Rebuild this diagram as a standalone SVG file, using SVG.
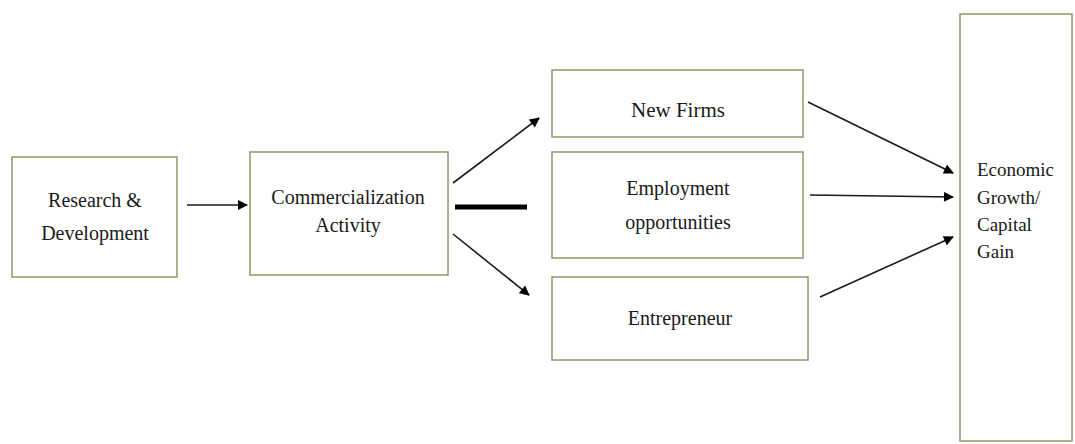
<svg xmlns="http://www.w3.org/2000/svg" width="1075" height="444" viewBox="0 0 1075 444">
  <style>
    .box { fill: #ffffff; stroke: #8a9c66; stroke-width: 1.5; }
    .lbl { font-family: "Liberation Serif", "Times New Roman", serif; font-size: 20px; fill: #1a1a1a; text-anchor: middle; }
    .lbl-left { font-family: "Liberation Serif", "Times New Roman", serif; font-size: 19px; fill: #1a1a1a; text-anchor: start; }
    .edge { stroke: #1a1a1a; stroke-width: 1.6; fill: none; marker-end: url(#head); }
    .edge-bold { stroke: #000000; stroke-width: 5; fill: none; }
  </style>
  <defs>
    <marker id="head" viewBox="0 0 10 10" refX="9" refY="5" markerWidth="11" markerHeight="10" markerUnits="userSpaceOnUse" orient="auto">
      <path d="M0,0 L10,5 L0,10 z" fill="#000"/>
    </marker>
  </defs>
  <rect width="1075" height="444" fill="#ffffff"/>

  <g id="research-development">
    <rect class="box" x="12" y="157" width="165" height="120"/>
    <text class="lbl" x="95" y="207">Research &amp;</text>
    <text class="lbl" x="95" y="240">Development</text>
  </g>

  <g id="commercialization-activity">
    <rect class="box" x="250" y="152" width="198" height="123"/>
    <text class="lbl" x="348" y="204">Commercialization</text>
    <text class="lbl" x="348" y="232">Activity</text>
  </g>

  <g id="new-firms">
    <rect class="box" x="552" y="70" width="251" height="67"/>
    <text class="lbl" x="678" y="117" style="font-size:21px">New Firms</text>
  </g>

  <g id="employment-opportunities">
    <rect class="box" x="552" y="152" width="251" height="106"/>
    <text class="lbl" x="678" y="195">Employment</text>
    <text class="lbl" x="678" y="229">opportunities</text>
  </g>

  <g id="entrepreneur">
    <rect class="box" x="552" y="277" width="256" height="83"/>
    <text class="lbl" x="680" y="325">Entrepreneur</text>
  </g>

  <g id="economic-growth">
    <rect class="box" x="960" y="14" width="112" height="427"/>
    <text class="lbl-left" x="977" y="176">Economic</text>
    <text class="lbl-left" x="977" y="204">Growth/</text>
    <text class="lbl-left" x="977" y="231">Capital</text>
    <text class="lbl-left" x="977" y="258">Gain</text>
  </g>

  <g id="connectors">
    <line class="edge" x1="187" y1="205" x2="247" y2="205"/>
    <line class="edge" x1="453" y1="183" x2="539" y2="118"/>
    <line class="edge-bold" x1="455" y1="207" x2="527" y2="207"/>
    <line class="edge" x1="453" y1="234" x2="529" y2="295"/>
    <line class="edge" x1="808" y1="102" x2="953" y2="173"/>
    <line class="edge" x1="810" y1="195" x2="953" y2="197"/>
    <line class="edge" x1="820" y1="297" x2="953" y2="237"/>
  </g>
</svg>
